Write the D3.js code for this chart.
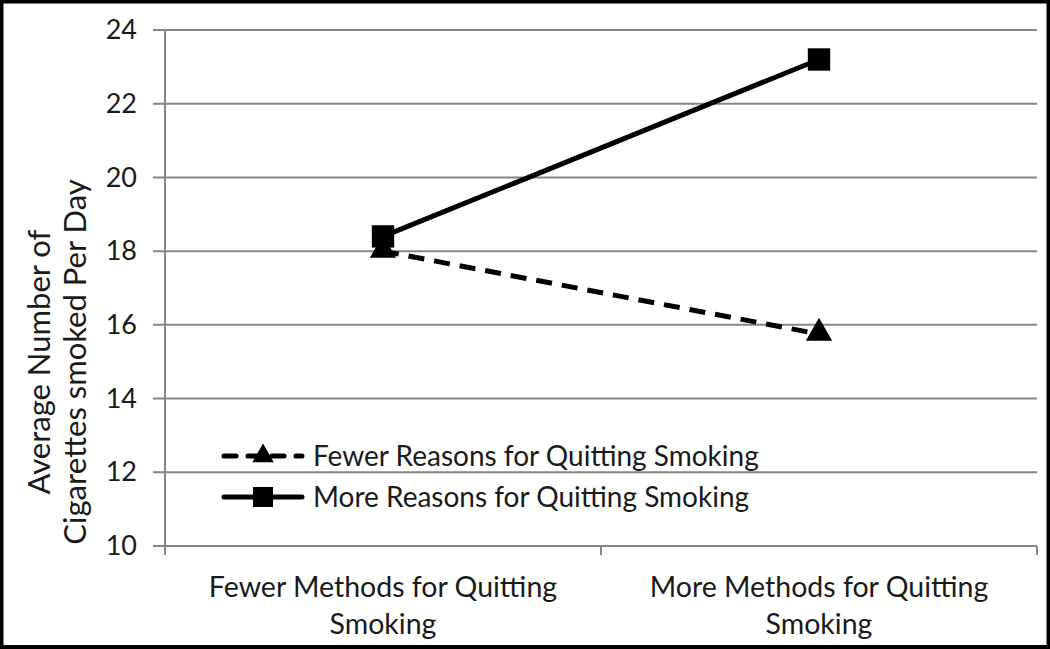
<!DOCTYPE html>
<html>
<head>
<meta charset="utf-8">
<script src="https://cdn.jsdelivr.net/npm/d3@7"></script>
<style>
  body { margin: 0; background: #fff; }
  text { font-family: Lato, "Open Sans", sans-serif; fill: #1a1a1a; }
</style>
</head>
<body>
<div id="graph"></div>
<script>
// chart values
const categories = ["Fewer Methods for Quitting Smoking", "More Methods for Quitting Smoking"];
const fewerReasons = [18.0, 15.75];
const moreReasons = [18.4, 23.2];
const seriesNames = ["Fewer Reasons for Quitting Smoking", "More Reasons for Quitting Smoking"];
const yTicks = [10, 12, 14, 16, 18, 20, 22, 24];

const W = 1050, H = 649;
let margin = {top: 30, right: 13, bottom: 103, left: 165},
    width = W - margin.left - margin.right,
    height = H - margin.top - margin.bottom;

let svg = d3.select("#graph")
    .append("svg")
    .attr("width", W)
    .attr("height", H);

// outer frame
svg.append("rect")
    .attr("x", 1.5).attr("y", 1.5)
    .attr("width", W - 3).attr("height", H - 3.5)
    .attr("fill", "none")
    .attr("stroke", "#000")
    .attr("stroke-width", 4);

let g = svg.append("g")
    .attr("transform", "translate(" + margin.left + "," + margin.top + ")");

let x = d3.scaleBand()
    .domain(categories)
    .range([0, width]);

let y = d3.scaleLinear()
    .domain([10, 24])
    .range([height, 0]);

// gridlines
g.append("g")
  .selectAll("line")
  .data(yTicks)
  .join("line")
    .attr("x1", -12)
    .attr("x2", width)
    .attr("y1", d => y(d))
    .attr("y2", d => y(d))
    .attr("stroke", "#868686")
    .attr("stroke-width", 2);

// y axis
let yAxis = g.append("g")
    .call(d3.axisLeft(y).tickValues(yTicks).tickSize(0).tickPadding(28).tickFormat(d3.format("d")));
yAxis.select(".domain").remove();
yAxis.selectAll("text")
    .style("font-size", "27px")
    .style("font-family", "Lato, sans-serif")
    .attr("fill", "#1a1a1a");

g.append("line")
    .attr("x1", 0).attr("x2", 0)
    .attr("y1", 0).attr("y2", height + 9)
    .attr("stroke", "#868686")
    .attr("stroke-width", 2);

// category ticks
g.append("g")
  .selectAll("line")
  .data([0, x.bandwidth(), width])
  .join("line")
    .attr("x1", d => d).attr("x2", d => d)
    .attr("y1", height).attr("y2", height + 9)
    .attr("stroke", "#868686")
    .attr("stroke-width", 2);

// category labels (two lines)
let catG = g.append("g");
categories.forEach(c => {
  let words = c.split(" ");
  let l1 = words.slice(0, -1).join(" "), l2 = words[words.length - 1];
  let t = catG.append("text")
      .attr("x", x(c) + x.bandwidth() / 2)
      .attr("y", height + 51)
      .attr("text-anchor", "middle")
      .style("font-size", "28.5px");
  t.append("tspan").attr("x", x(c) + x.bandwidth() / 2).attr("dy", 0).text(l1);
  t.append("tspan").attr("x", x(c) + x.bandwidth() / 2).attr("dy", 37).text(l2);
});

// y axis title
let yt = svg.append("text")
    .attr("transform", "translate(50,362) rotate(-90)")
    .attr("text-anchor", "middle")
    .style("font-size", "31px");
yt.append("tspan").attr("x", 0).attr("dy", 0).text("Average Number of");
yt.append("tspan").attr("x", 0).attr("dy", 36).text("Cigarettes smoked Per Day");

let cx = d => x(d) + x.bandwidth() / 2;

let line = d3.line()
    .x(d => cx(d[0]))
    .y(d => y(d[1]));

// Fewer reasons: dashed with triangles
g.append("path")
    .datum(d3.zip(categories, fewerReasons))
    .attr("d", line)
    .attr("fill", "none")
    .attr("stroke", "#000")
    .attr("stroke-width", 5)
    .attr("stroke-dasharray", "16,10");

// More reasons: solid with squares
g.append("path")
    .datum(d3.zip(categories, moreReasons))
    .attr("d", line)
    .attr("fill", "none")
    .attr("stroke", "#000")
    .attr("stroke-width", 5);

let tri = d3.symbol().type(d3.symbolTriangle).size(300);
let sq = d3.symbol().type(d3.symbolSquare).size(500);

g.selectAll(".tri")
  .data(d3.zip(categories, fewerReasons))
  .join("path")
    .attr("class", "tri")
    .attr("d", tri)
    .attr("transform", d => "translate(" + cx(d[0]) + "," + (y(d[1]) - 1) + ")")
    .attr("fill", "#000");

g.selectAll(".sq")
  .data(d3.zip(categories, moreReasons))
  .join("path")
    .attr("class", "sq")
    .attr("d", sq)
    .attr("transform", d => "translate(" + cx(d[0]) + "," + y(d[1]) + ")")
    .attr("fill", "#000");

// legend
let legend = svg.append("g").attr("transform", "translate(222,456)");
seriesNames.forEach((name, i) => {
  let row = legend.append("g").attr("transform", "translate(0," + (i * 41) + ")");
  row.append("line")
      .attr("x1", 2).attr("x2", 80)
      .attr("stroke", "#000")
      .attr("stroke-width", 5)
      .attr("stroke-linecap", "round")
      .attr("stroke-dasharray", i === 0 ? "12,12" : null);
  row.append("path")
      .attr("d", i === 0 ? d3.symbol().type(d3.symbolTriangle).size(200)() : d3.symbol().type(d3.symbolSquare).size(400)())
      .attr("transform", "translate(41,0)")
      .attr("fill", "#000");
  row.append("text")
      .attr("x", 91)
      .attr("dy", "0.35em")
      .style("font-size", "28px")
      .text(name);
});
</script>
</body>
</html>
